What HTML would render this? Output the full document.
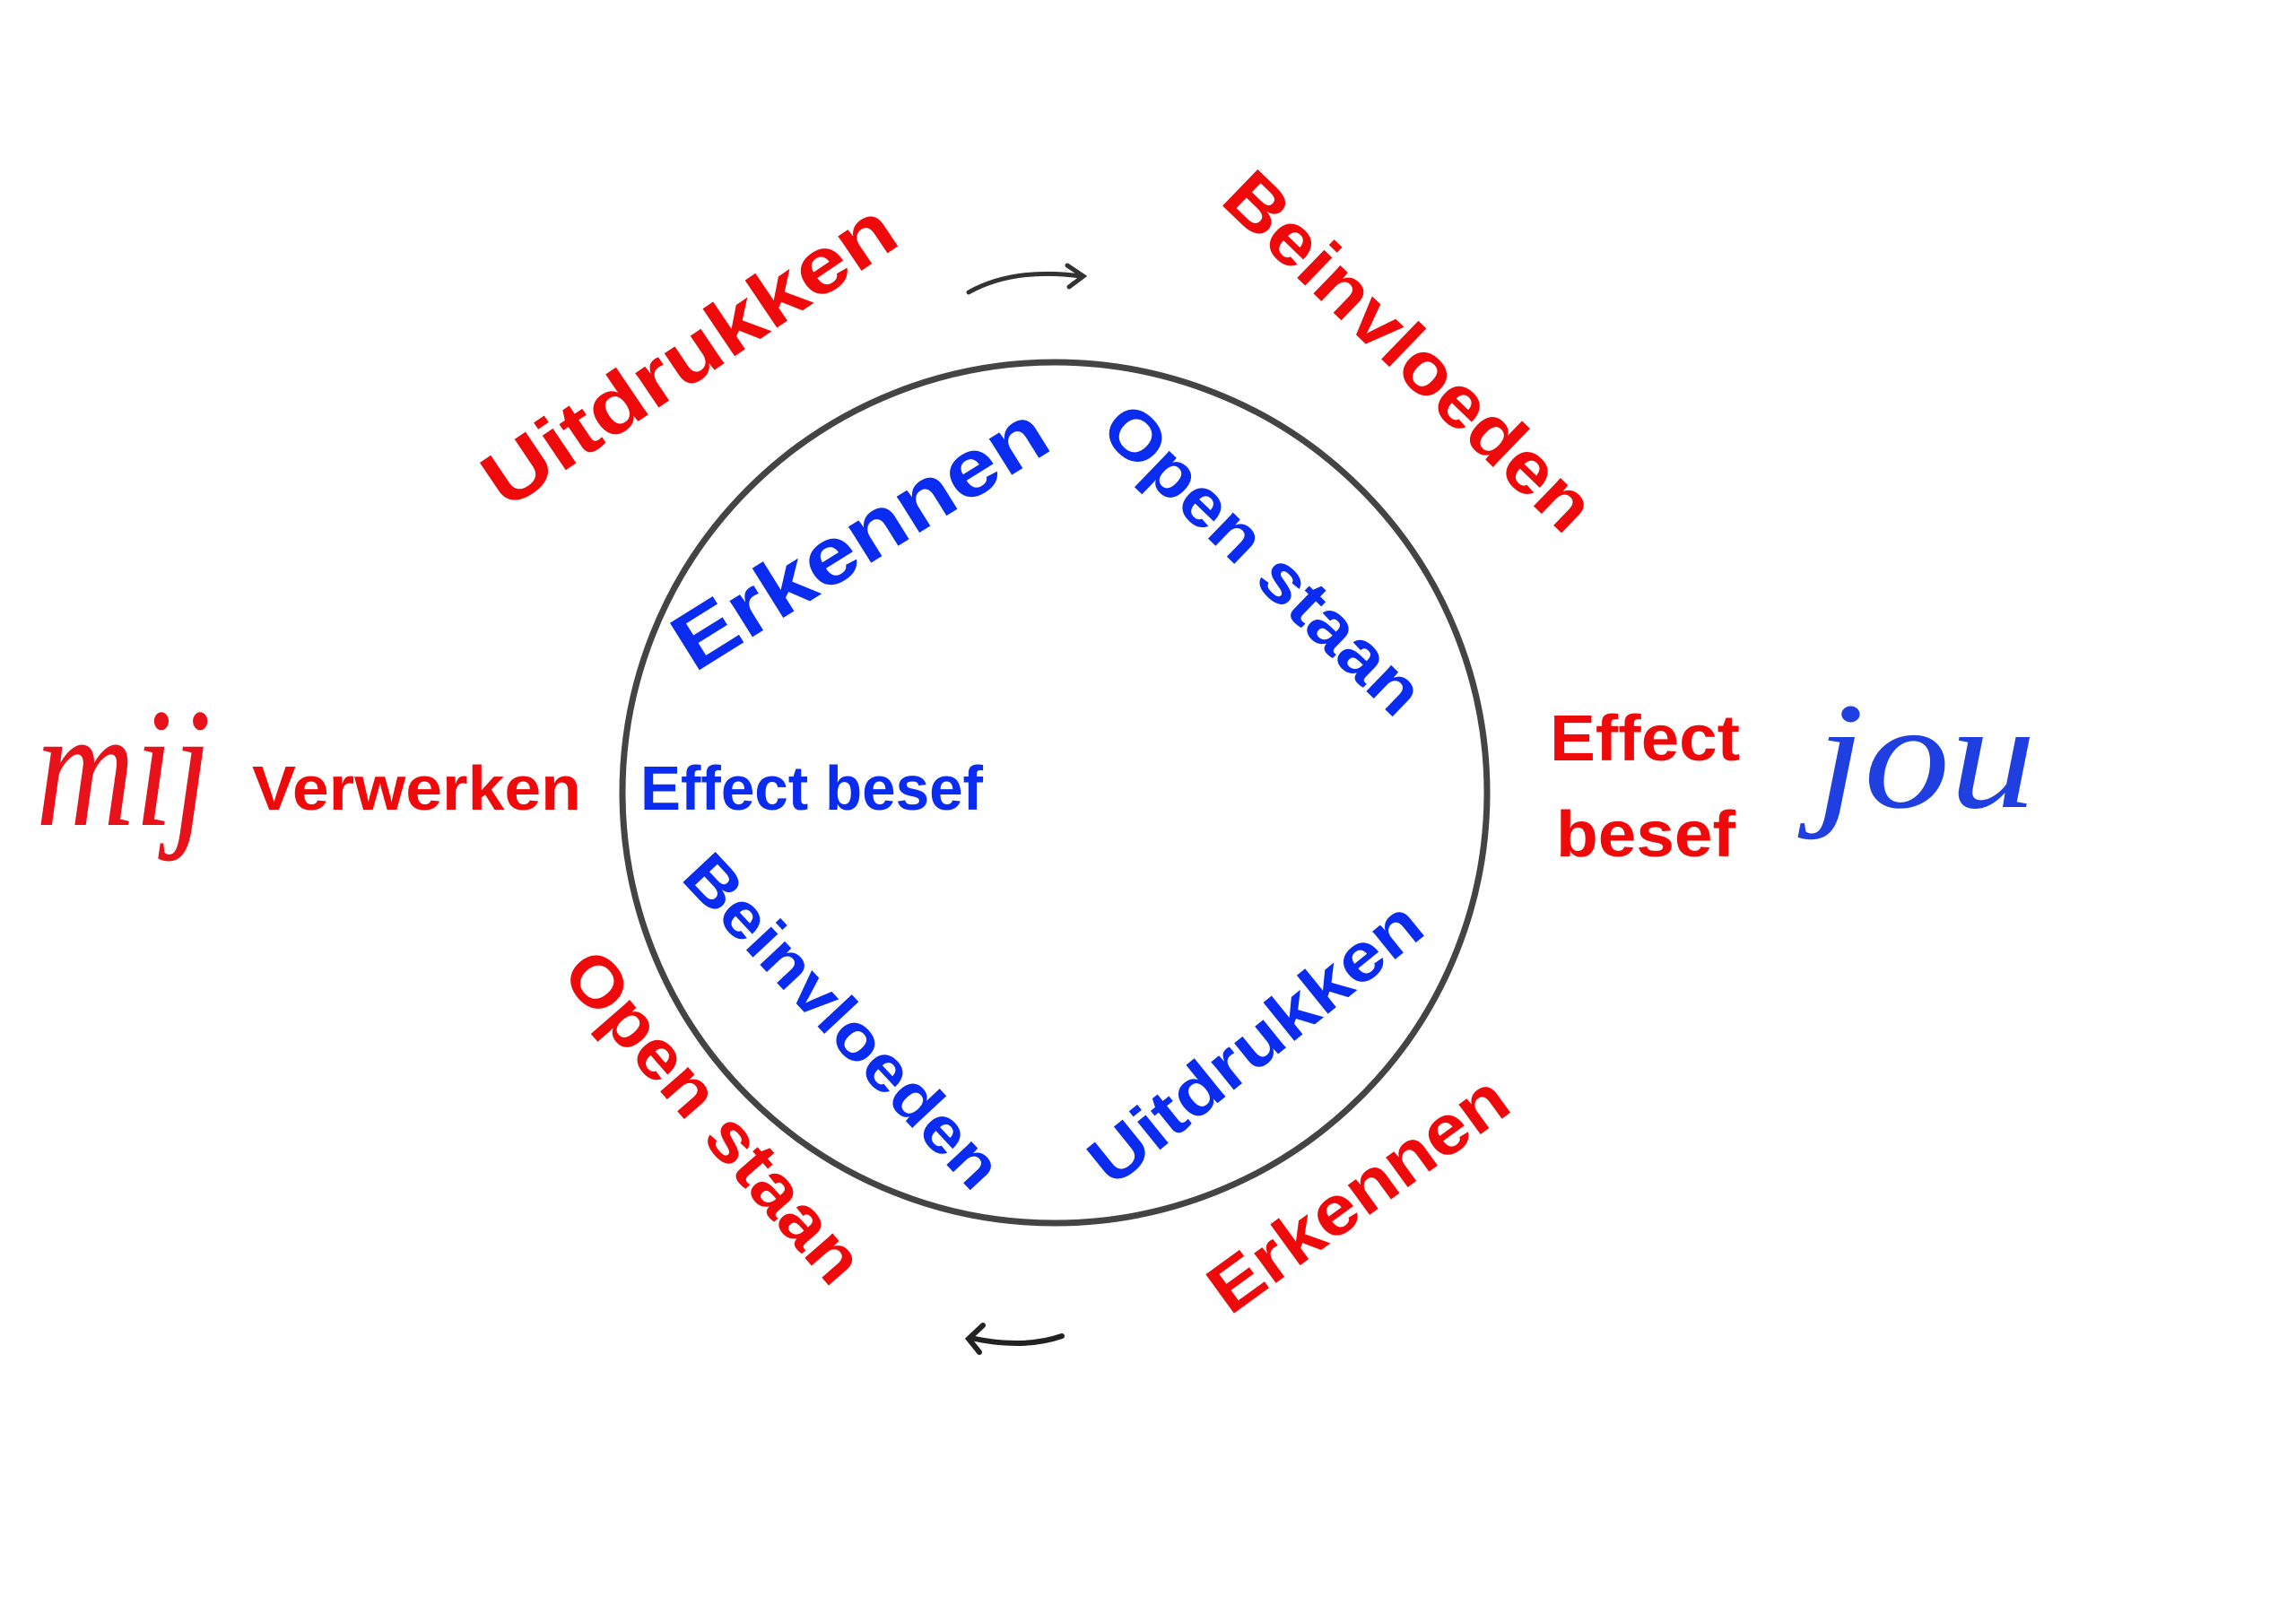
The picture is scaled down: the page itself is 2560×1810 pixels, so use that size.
<!DOCTYPE html>
<html><head><meta charset="utf-8"><style>
html,body{margin:0;padding:0;background:#fff;}
svg{display:block;}
text{font-family:"Liberation Sans",sans-serif;font-weight:bold;}
.r{fill:#ee0a0a;}
.b{fill:#0a2cf0;}
</style></head><body>
<svg width="2560" height="1810" viewBox="0 0 2560 1810" xmlns="http://www.w3.org/2000/svg">
<rect width="2560" height="1810" fill="#fff"/>
<ellipse cx="1176" cy="884" rx="482" ry="480" fill="none" stroke="#444" stroke-width="7"/>
<!-- arrows -->
<path d="M1080 326 Q1130 298 1205 308" fill="none" stroke="#333" stroke-width="5" stroke-linecap="round"/>
<path d="M1190 296 L1208 308 L1192 320" fill="none" stroke="#333" stroke-width="5" stroke-linecap="round"/>
<path d="M1184 1490 Q1140 1505 1082 1492" fill="none" stroke="#222" stroke-width="6" stroke-linecap="round"/>
<path d="M1096 1478 L1080 1493 L1092 1508" fill="none" stroke="#222" stroke-width="6" stroke-linecap="round"/>

<!-- horizontal labels -->
<text class="r" x="281" y="903" font-size="70" textLength="367" lengthAdjust="spacingAndGlyphs">Verwerken</text>
<text class="b" x="714" y="903" font-size="70" textLength="382" lengthAdjust="spacingAndGlyphs">Effect besef</text>
<text class="r" x="1728" y="848" font-size="72" textLength="212" lengthAdjust="spacingAndGlyphs">Effect</text>
<text class="r" x="1735" y="955" font-size="72" textLength="200" lengthAdjust="spacingAndGlyphs">besef</text>

<!-- handwritten -->
<text x="40" y="920" font-size="190" fill="#e8121a" style="font-family:'Liberation Serif',serif;font-weight:normal;font-style:italic" textLength="195" lengthAdjust="spacingAndGlyphs">mij</text>
<text x="2025" y="900" font-size="170" fill="#1f3fe0" style="font-family:'Liberation Serif',serif;font-weight:normal;font-style:italic" textLength="245" lengthAdjust="spacingAndGlyphs">jou</text>

<!-- rotated labels -->
<g text-anchor="middle" dominant-baseline="central">
<text class="r" font-size="88" transform="translate(768,395) rotate(-34)" textLength="534" lengthAdjust="spacingAndGlyphs">Uitdrukken</text>
<text class="r" font-size="82" transform="translate(1571,392) rotate(44)" textLength="537" lengthAdjust="spacingAndGlyphs">Beinvloeden</text>
<text class="b" font-size="90" transform="translate(959,600) rotate(-32)" textLength="474" lengthAdjust="spacingAndGlyphs">Erkennen</text>
<text class="b" font-size="76" transform="translate(1408,624) rotate(44)" textLength="462" lengthAdjust="spacingAndGlyphs">Open staan</text>
<text class="b" font-size="72" transform="translate(939,1139) rotate(47)" textLength="480" lengthAdjust="spacingAndGlyphs">Beinvloeden</text>
<text class="b" font-size="76" transform="translate(1400,1163) rotate(-39)" textLength="453" lengthAdjust="spacingAndGlyphs">Uitdrukken</text>
<text class="r" font-size="78" transform="translate(796,1245) rotate(49)" textLength="463" lengthAdjust="spacingAndGlyphs">Open staan</text>
<text class="r" font-size="78" transform="translate(1514,1331) rotate(-36)" textLength="392" lengthAdjust="spacingAndGlyphs">Erkennen</text>
</g>
</svg>
</body></html>
